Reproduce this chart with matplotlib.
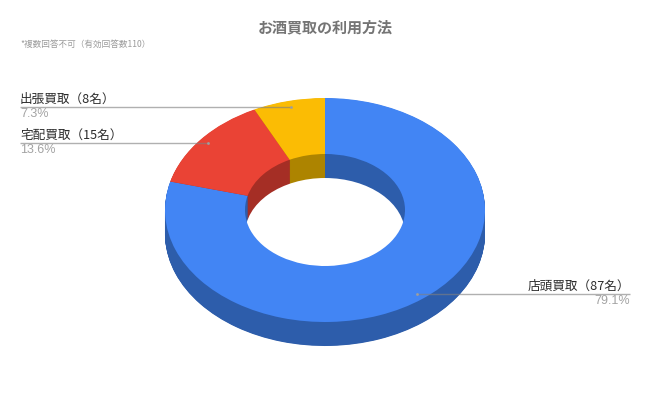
import numpy as np
import matplotlib
matplotlib.use("Agg")
import matplotlib.pyplot as plt
from matplotlib.patches import Ellipse

plt.rcParams['font.family'] = ['Noto Sans CJK JP', 'DejaVu Sans']

title = "お酒買取の利用方法"
subtitle = "*複数回答不可（有効回答数110）"
categories = ["店頭買取（87名）", "宅配買取（15名）", "出張買取（8名）"]
values = [87, 15, 8]
percents = ["79.1%", "13.6%", "7.3%"]
top_colors = ["#4285f4", "#ea4335", "#fbbc04"]
side_colors = ["#2d5dab", "#a52e25", "#ad8400"]

W, H = 650, 403
CX, CY, RX, RY, DEPTH = 325, 210, 160, 112, 24   # pixels
HOLE = 0.5

fig = plt.figure(figsize=(W / 100, H / 100), dpi=100)
ax = fig.add_axes([0, 0, 1, 1])


def pie(colors, radius=1.0, drop=0.0, width=None):
    wp = dict(linewidth=0)
    if width is not None:
        wp["width"] = width
    ax.pie(values, colors=colors, radius=radius, center=(0, -drop / RY),
           startangle=90, counterclock=False, wedgeprops=wp, normalize=True)


# outer side wall (extrusion)
for d in np.arange(DEPTH, 0, -0.5):
    pie(side_colors, drop=d)
# inner wall: painted from the top surface downward
for d in np.arange(0, DEPTH + 0.5, 0.5):
    pie(side_colors, radius=HOLE, drop=d)
# see-through part of the hole: one solid disc, so no seams
ax.add_patch(Ellipse((0, -DEPTH / RY), 2 * HOLE, 2 * HOLE, facecolor="white", edgecolor="none", zorder=1.5))
# top surface
ax.pie(values, colors=top_colors, radius=1.0, startangle=90, counterclock=False,
       wedgeprops=dict(linewidth=0, width=1 - HOLE, zorder=2), normalize=True)

ax.set_aspect("auto")
ax.set_xlim(-CX / RX, (W - CX) / RX)
ax.set_ylim((CY - H) / RY, CY / RY)
ax.axis("off")


def px(x, y):
    return (x - CX) / RX, (CY - y) / RY


# leader lines
LABEL_LEFT, LABEL_RIGHT = 20, 630
total = sum(values)
cum = 0
for i, v in enumerate(values):
    mid = (cum + v / 2) / total * 2 * np.pi
    cum += v
    x0, y0 = 0.945 * np.sin(mid), 0.945 * np.cos(mid)
    if x0 > 0:
        xe, ha = (LABEL_RIGHT - CX) / RX, "right"
    else:
        xe, ha = (LABEL_LEFT - CX) / RX, "left"
    ax.plot([x0, xe], [y0, y0], color="#808080", alpha=0.62, lw=1.0, solid_capstyle="butt", zorder=5)
    ax.plot([x0], [y0], "o", color="#9e9e9e", ms=2.0, mew=0, zorder=6)
    ax.annotate(categories[i], (xe, y0), xytext=(0, 0.9), textcoords="offset points",
                ha=ha, va="bottom", fontsize=9.1, color="#2b2b2b", zorder=7)
    ax.annotate(percents[i], (xe, y0), xytext=(0, -0.9), textcoords="offset points",
                ha=ha, va="top", fontsize=9.0, color="#a3a3a3",
                family=["Liberation Sans", "DejaVu Sans"], zorder=7)

tx, ty = px(325, 27)
ax.text(tx, ty, title, ha="center", va="center", fontsize=10.85, fontweight="bold", color="#757575")
sx, sy = px(20, 44)
ax.text(sx, sy, subtitle, ha="left", va="center", fontsize=6.2, color="#9a9a9a")

fig.savefig("out.png", dpi=100, facecolor="white")
